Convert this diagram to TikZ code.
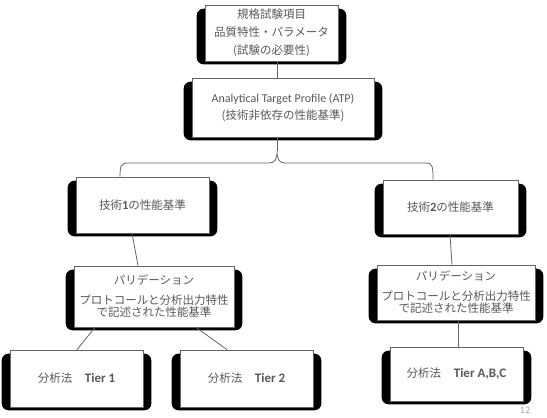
\documentclass[tikz,border=0pt]{standalone}
\usepackage{fontspec}
\setmainfont{Carlito}
\newfontfamily\jp{Noto Sans CJK JP}
\usetikzlibrary{positioning,backgrounds}
\definecolor{InkGray}{RGB}{88, 88, 88}
\definecolor{LineGray}{RGB}{100, 100, 100}
\newcommand{\eng}[1]{{\rmfamily #1}}

\tikzset{
  plate/.style={draw=LineGray, line width=0.7pt, fill=white, inner sep=0pt,
    align=center, text=InkGray, font=\jp\fontsize{11.5}{18}\selectfont},
  link/.style={draw=LineGray, line width=0.8pt},
}

\begin{document}
\begin{tikzpicture}[x=1pt, y=-1pt]
  \useasboundingbox (0,0) rectangle (547,418);

  % top row
  \node[plate, minimum width=133pt, minimum height=56pt] (spec) at (271.5,33)
    {規格試験項目\\品質特性・パラメータ\\(試験の必要性)};
  \node[plate, minimum width=182pt, minimum height=59pt,
    font=\jp\fontsize{11.5}{17}\selectfont] (atp) at (283,107.5)
    {\eng{\fontsize{12}{17}\selectfont Analytical Target Profile (ATP)}\\(技術非依存の性能基準)};

  % techniques
  \node[plate, minimum width=133pt, minimum height=56pt] (tech1) at (142.5,205)
    {技術\eng{\fontsize{12.5}{18}\selectfont\textbf{1}}の性能基準};
  \node[plate, minimum width=135pt, minimum height=54pt] (tech2) at (450.5,207)
    {技術\eng{\fontsize{12.5}{18}\selectfont\textbf{2}}の性能基準};

  % validation
  \node[plate, minimum width=160pt, minimum height=61pt,
    font=\jp\fontsize{11.5}{12.5}\selectfont] (valL) at (154,296.5)
    {パリデーション\\[7pt]プロトコールと分析出力特性\\で記述された性能基準};
  \node[plate, minimum width=158pt, minimum height=55pt,
    font=\jp\fontsize{11.5}{12.5}\selectfont] (valR) at (456,292.5)
    {パリデーション\\[7pt]プロトコールと分析出力特性\\で記述された性能基準};

  % methods
  \node[plate, minimum width=133pt, minimum height=57pt] (tier1) at (76.5,378.5)
    {分析法\hspace{1.1em}\eng{\fontsize{13}{18}\selectfont\textbf{Tier 1}}};
  \node[plate, minimum width=133pt, minimum height=57pt] (tier2) at (246.5,378.5)
    {分析法\hspace{1.1em}\eng{\fontsize{13}{18}\selectfont\textbf{Tier 2}}};
  \node[plate, minimum width=133pt, minimum height=54pt] (tierC) at (456.5,374)
    {分析法\hspace{1.1em}\eng{\fontsize{13}{18}\selectfont\textbf{Tier A,B,C}}};

  \node[text=black!35, font=\eng{\fontsize{5}{5}\selectfont}, inner sep=0pt] (pgno) at (525,410.5) {12};

  % black scroll backs
  \begin{scope}[on background layer]
    \foreach \n in {spec,atp,tech1,tech2,valL,valR,tier1,tier2,tierC} {
      \fill[black, rounded corners=7pt] ([xshift=-8pt,yshift=-4pt]\n.north west)
        rectangle ([xshift=8pt,yshift=-3pt]\n.south east);
    }
  \end{scope}

  % connectors
  \coordinate (brtip) at (277,151);
  \draw[link] ([xshift=5.5pt]spec.south) -- ([xshift=-6pt]atp.north);
  \draw[link] ([xshift=-6pt]atp.south) -- (brtip);
  \draw[link] ([xshift=-22.5pt]tech1.north) .. controls +(0,-11) and +(-7,0) .. (128,163)
    -- (269,163) .. controls +(6,0) and +(0,8) .. (brtip)
    .. controls +(0,8) and +(-6,0) .. (285,163)
    -- (426,163) .. controls +(7,0) and +(0,-12) .. ([xshift=-17.5pt]tech2.north);
  \draw[link] ([xshift=-10.5pt]tech1.south) -- ([xshift=-16pt]valL.north);
  \draw[link] ([xshift=-0.5pt]tech2.south) -- ([xshift=-4pt]valR.north);
  \draw[link] ([xshift=-59pt]valL.south) -- ([xshift=0.5pt]tier1.north);
  \draw[link] ([xshift=42pt]valL.south) -- ([xshift=-19.5pt]tier2.north);
  \draw[link] ([xshift=2pt]valR.south) -- ([xshift=1.5pt]tierC.north);
\end{tikzpicture}
\end{document}
